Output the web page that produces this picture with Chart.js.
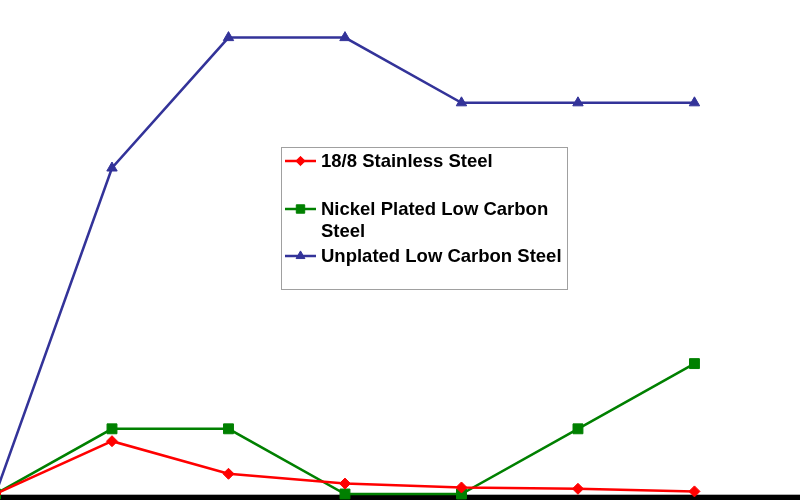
<!DOCTYPE html>
<html>
<head>
<meta charset="utf-8">
<script src="https://cdn.jsdelivr.net/npm/chart.js@4/dist/chart.umd.min.js"></script>
<style>
  html, body { margin: 0; padding: 0; background: #ffffff; }
  #wrap { width: 800px; height: 500px; }
</style>
</head>
<body>
<div id="wrap"><canvas id="c" width="800" height="500"></canvas></div>
<script>
// ---- data ----
const categories = [0, 1, 2, 3, 4, 5, 6];
const stainless  = [0, 0.81, 0.31, 0.16, 0.10, 0.08, 0.04];
const nickel     = [0, 1, 1, 0, 0, 1, 2];
const unplated   = [0, 5, 7, 7, 6, 6, 6];
const seriesNames = ['18/8 Stainless Steel', 'Nickel Plated Low Carbon Steel', 'Unplated Low Carbon Steel'];
const legendLines = [['18/8 Stainless Steel'], ['Nickel Plated Low Carbon', 'Steel'], ['Unplated Low Carbon Steel']];

const toPts = arr => arr.map((v, i) => ({ x: categories[i], y: v }));

const axisBar = {
  id: 'axisBar',
  beforeDatasetsDraw(chart) {
    const { ctx, chartArea } = chart;
    ctx.save();
    ctx.fillStyle = '#000000';
    ctx.fillRect(0, chartArea.bottom + 1, chart.width, chart.height - chartArea.bottom - 1);
    ctx.strokeStyle = '#b0b0b0';
    ctx.lineWidth = 1;
    ctx.beginPath();
    ctx.moveTo(0, chartArea.bottom + 0.5);
    ctx.lineTo(chart.width, chartArea.bottom + 0.5);
    ctx.stroke();
    ctx.restore();
  }
};

const boxLegend = {
  id: 'boxLegend',
  afterDraw(chart) {
    const { ctx } = chart;
    const box = { l: 281, t: 147, r: 567, b: 289 };
    ctx.save();
    ctx.fillStyle = '#ffffff';
    ctx.fillRect(box.l, box.t, box.r - box.l, box.b - box.t);
    ctx.strokeStyle = '#a0a0a0';
    ctx.lineWidth = 1;
    ctx.strokeRect(box.l + 0.5, box.t + 0.5, box.r - box.l, box.b - box.t);
    const rows = [161, 209, 256];
    const lineH = 21.5;
    ctx.font = 'bold 18.5px "Liberation Sans", Arial, sans-serif';
    ctx.textBaseline = 'middle';
    chart.data.datasets.forEach((ds, i) => {
      const y = rows[i];
      ctx.strokeStyle = ds.borderColor;
      ctx.lineWidth = ds.borderWidth;
      ctx.beginPath();
      ctx.moveTo(285, y);
      ctx.lineTo(316, y);
      ctx.stroke();
      const opts = {
        pointStyle: ds.pointStyle,
        radius: ds.pointRadius * 0.85,
        rotation: 0,
        borderWidth: 1
      };
      ctx.fillStyle = ds.pointBackgroundColor;
      ctx.strokeStyle = ds.pointBorderColor;
      ctx.lineWidth = 1;
      Chart.helpers.drawPoint(ctx, opts, 300.5, y);
      ctx.fillStyle = '#000000';
      legendLines[i].forEach((t, k) => ctx.fillText(t, 321, y + k * lineH + 1));
    });
    ctx.restore();
  }
};

const mk = (label, data, color, style, r) => ({
  label, data: toPts(data),
  borderColor: color, backgroundColor: color,
  pointBackgroundColor: color, pointBorderColor: color,
  borderWidth: 2.5, pointStyle: style, pointRadius: r, pointBorderWidth: 1,
  pointHoverRadius: r, tension: 0, clip: false
});

new Chart(document.getElementById('c'), {
  type: 'line',
  data: {
    datasets: [
      mk(seriesNames[0], stainless, '#ff0000', 'rectRot', 5.5),
      mk(seriesNames[1], nickel, '#008000', 'rect', 7),
      mk(seriesNames[2], unplated, '#333399', 'triangle', 6)
    ]
  },
  options: {
    responsive: false,
    animation: false,
    devicePixelRatio: 1,
    layout: { autoPadding: false, padding: { top: 0, left: 0, right: 0, bottom: 6 } },
    plugins: { legend: { display: false }, tooltip: { enabled: false } },
    scales: {
      x: { type: 'linear', display: false, min: 0.0386, max: 6.906 },
      y: { type: 'linear', display: false, min: 0, max: 7.577 }
    }
  },
  plugins: [axisBar, boxLegend]
});
</script>
</body>
</html>
